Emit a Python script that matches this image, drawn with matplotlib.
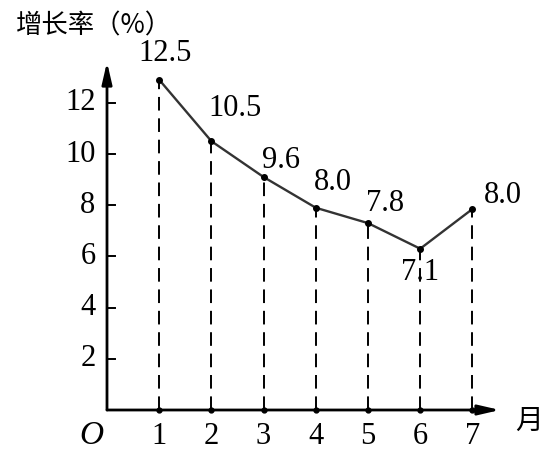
import matplotlib.pyplot as plt

plt.rcParams['font.family'] = ['Liberation Serif', 'Noto Sans CJK SC']

months = [1, 2, 3, 4, 5, 6, 7]
# heights as drawn in the picture (the sketch is not to scale)
drawn = [12.9, 10.5, 9.1, 7.9, 7.3, 6.3, 7.85]
labels = ['12.5', '10.5', '9.6', '8.0', '7.8', '7.1', '8.0']
# label offsets in pixels from each point
offs = [(6, 26), (24, 33), (17, 17), (17, 25), (17, 20), (0, -24), (30, 14)]
yticks = [2, 4, 6, 8, 10, 12]

W, H = 552, 462
fig = plt.figure(figsize=(W / 100, H / 100), dpi=100)
x0, y0, x1, y1 = 107, 410, 500, 62
ax = fig.add_axes([x0 / W, 1 - y0 / H, (x1 - x0) / W, (y0 - y1) / H])
sx = 52.2
sy = 25.6
ax.set_xlim(0, (x1 - x0) / sx)
ax.set_ylim(0, (y0 - y1) / sy)
ax.axis('off')

# axes with arrows
ax.annotate('', xy=((x1 - x0) / sx, 0), xytext=(0, 0),
            arrowprops=dict(arrowstyle='-|>,head_length=1.3,head_width=0.3', color='black', lw=2,
                            shrinkA=0, shrinkB=0), annotation_clip=False)
ax.annotate('', xy=(0, (y0 - y1) / sy), xytext=(0, 0),
            arrowprops=dict(arrowstyle='-|>,head_length=1.3,head_width=0.3', color='black', lw=2,
                            shrinkA=0, shrinkB=0), annotation_clip=False)

# y ticks
for t in yticks:
    ax.plot([0, 0.15], [t, t], color='black', lw=1.4, clip_on=False)
    ax.text(-0.22, t, str(t), ha='right', va='center', fontsize=22)

for m in months:
    ax.text(m, -0.45, str(m), ha='center', va='top', fontsize=22)
    ax.plot(m, 0, 'o', color='black', ms=3.5, clip_on=False)
ax.text(-0.3, -0.4, 'O', ha='center', va='top', fontsize=24, style='italic')

# dashed guides
for m, v in zip(months, drawn):
    ax.plot([m, m], [0, v], color='black', lw=1.4, ls=(0, (7, 4)), clip_on=False)

ax.plot(months, drawn, color='#333333', lw=1.7, clip_on=False)
ax.plot(months, drawn, 'o', color='black', ms=4, clip_on=False)

for m, v, lab, (dx, dy) in zip(months, drawn, labels, offs):
    ax.annotate(lab, (m, v), xytext=(dx, dy), textcoords='offset pixels',
                ha='center', va='center', fontsize=22, annotation_clip=False)

fig.text(16 / W, 1 - 26 / H, '增长率（%）', ha='left', va='center', fontsize=19,
         family=['Noto Sans CJK SC', 'DejaVu Sans'])
fig.text(515 / W, 1 - 421 / H, '月', ha='left', va='center', fontsize=20,
         family=['Noto Sans CJK SC', 'DejaVu Sans'])

fig.savefig('out.png', dpi=100)
